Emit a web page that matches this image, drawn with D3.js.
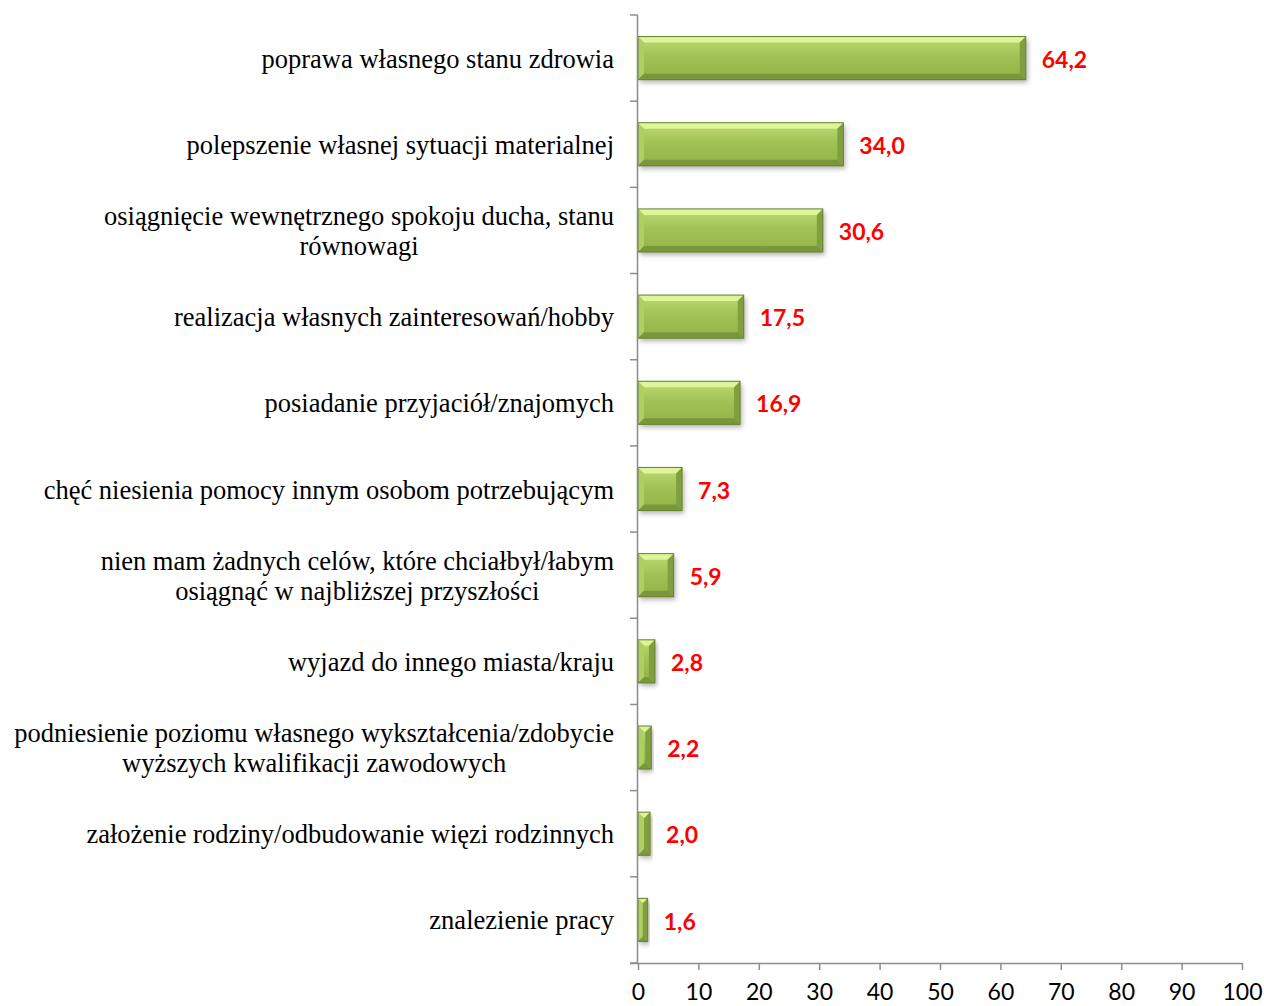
<!DOCTYPE html>
<html>
<head>
<meta charset="utf-8">
<script src="https://cdn.jsdelivr.net/npm/d3@7"></script>
<style>
  html, body { margin: 0; padding: 0; background: #fff; }
  svg { display: block; }
</style>
</head>
<body>
<svg id="chart" width="1264" height="1006"></svg>
<script>
// Goals respondents want to achieve in the near future (% of answers)
const categories = [
  ["poprawa własnego stanu zdrowia"],
  ["polepszenie własnej sytuacji materialnej"],
  ["osiągnięcie wewnętrznego spokoju ducha, stanu", "równowagi"],
  ["realizacja własnych zainteresowań/hobby"],
  ["posiadanie przyjaciół/znajomych"],
  ["chęć niesienia pomocy innym osobom potrzebującym"],
  ["nien mam żadnych celów, które chciałbył/łabym", "osiągnąć w najbliższej przyszłości"],
  ["wyjazd do innego miasta/kraju"],
  ["podniesienie poziomu własnego wykształcenia/zdobycie", "wyższych kwalifikacji zawodowych"],
  ["założenie rodziny/odbudowanie więzi rodzinnych"],
  ["znalezienie pracy"]
];
const values = [64.2, 34.0, 30.6, 17.5, 16.9, 7.3, 5.9, 2.8, 2.2, 2.0, 1.6];
const valueLabels = ["64,2", "34,0", "30,6", "17,5", "16,9", "7,3", "5,9", "2,8", "2,2", "2,0", "1,6"];
const xTicks = [0, 10, 20, 30, 40, 50, 60, 70, 80, 90, 100];

const svg = d3.select("#chart");
const plotLeft = 638, plotRight = 1242, plotTop = 15, plotBottom = 963;

const x = d3.scaleLinear().domain([0, 100]).range([plotLeft, plotRight]);
const y = d3.scaleBand().domain(d3.range(categories.length)).range([plotTop, plotBottom])
  .paddingInner(0.5).paddingOuter(0.25);
const band = d3.scaleBand().domain(d3.range(categories.length)).range([plotTop, plotBottom]);

const defs = svg.append("defs");
const grad = defs.append("linearGradient").attr("id", "barGrad")
  .attr("x1", 0).attr("y1", 0).attr("x2", 0).attr("y2", 1);
grad.append("stop").attr("offset", "0%").attr("stop-color", "#bedb74");
grad.append("stop").attr("offset", "45%").attr("stop-color", "#a2c256");
grad.append("stop").attr("offset", "100%").attr("stop-color", "#93b248");

const shadow = defs.append("filter").attr("id", "shadow")
  .attr("x", "-10%").attr("y", "-20%").attr("width", "130%").attr("height", "160%");
shadow.append("feDropShadow").attr("dx", 2).attr("dy", 3).attr("stdDeviation", 2.5)
  .attr("flood-color", "#000").attr("flood-opacity", 0.3);

// Bars with bevelled edges
const bars = svg.append("g").selectAll("g.bar").data(values).join("g").attr("class", "bar");
bars.each(function(v, i) {
  const g = d3.select(this);
  const x0 = x(0), x1 = x(v), y0 = y(i), h = y.bandwidth();
  const w = x1 - x0;
  const b = Math.min(6, w / 2, h / 2);
  g.append("rect").attr("x", x0).attr("y", y0).attr("width", w).attr("height", h)
    .attr("fill", "url(#barGrad)").attr("filter", "url(#shadow)");
  // top bevel
  g.append("path").attr("d", `M${x0},${y0}L${x1},${y0}L${x1 - b},${y0 + b}L${x0 + b},${y0 + b}Z`)
    .attr("fill", "#def59a");
  // left bevel
  g.append("path").attr("d", `M${x0},${y0}L${x0 + b},${y0 + b}L${x0 + b},${y0 + h - b}L${x0},${y0 + h}Z`)
    .attr("fill", "#b0cf62");
  // right bevel
  g.append("path").attr("d", `M${x1},${y0}L${x1},${y0 + h}L${x1 - b},${y0 + h - b}L${x1 - b},${y0 + b}Z`)
    .attr("fill", "#819f3e");
  // bottom bevel
  g.append("path").attr("d", `M${x0},${y0 + h}L${x1},${y0 + h}L${x1 - b},${y0 + h - b}L${x0 + b},${y0 + h - b}Z`)
    .attr("fill", "#7a973b");
  g.append("rect").attr("x", x0).attr("y", y0).attr("width", w).attr("height", h)
    .attr("fill", "none").attr("stroke", "#66822f").attr("stroke-width", 1);
});

// Value labels
svg.append("g").selectAll("text").data(values).join("text")
  .attr("x", d => x(d) + 16)
  .attr("y", (d, i) => y(i) + y.bandwidth() / 2)
  .attr("dy", "0.42em")
  .attr("font-family", "Lato, 'Open Sans', sans-serif")
  .attr("font-weight", "bold")
  .attr("font-size", 23)
  .attr("fill", "#ff0000")
  .text((d, i) => valueLabels[i]);

// Category axis (vertical line with band separators)
const axisColor = "#8c8c8c";
const yAxis = svg.append("g");
yAxis.append("line").attr("x1", plotLeft - 0.5).attr("x2", plotLeft - 0.5)
  .attr("y1", plotTop).attr("y2", plotBottom).attr("stroke", axisColor).attr("stroke-width", 1.5);
yAxis.selectAll("line.tick").data(d3.range(categories.length + 1)).join("line")
  .attr("class", "tick")
  .attr("x1", plotLeft - 8).attr("x2", plotLeft)
  .attr("y1", i => i < categories.length ? band(i) : plotBottom)
  .attr("y2", i => i < categories.length ? band(i) : plotBottom)
  .attr("stroke", axisColor).attr("stroke-width", 1.5);

// Category labels (multi-line, centred inside a right-aligned block)
const labelRight = 614, lineH = 30;
const labels = svg.append("g").attr("font-family", "'Liberation Serif', 'Times New Roman', serif")
  .attr("font-size", 26.5).attr("fill", "#000");
categories.forEach((lines, i) => {
  const cy = band(i) + band.bandwidth() / 2;
  const t = labels.append("text").attr("text-anchor", "middle");
  lines.forEach((ln, k) => {
    t.append("tspan").attr("y", cy + (k - (lines.length - 1) / 2) * lineH).attr("dy", "0.36em").text(ln);
  });
  let maxW = 0;
  t.selectAll("tspan").each(function() { maxW = Math.max(maxW, this.getComputedTextLength()); });
  t.selectAll("tspan").attr("x", labelRight - maxW / 2);
});

// Value axis
const xAxis = d3.axisBottom(x).tickValues(xTicks).tickSize(7).tickPadding(14).tickFormat(d3.format("d"));
const gx = svg.append("g").attr("transform", `translate(0,${plotBottom})`).call(xAxis);
gx.select(".domain").attr("d", `M${plotLeft - 8},0.5H${plotRight}`).attr("stroke", axisColor).attr("stroke-width", 1.5);
gx.selectAll(".tick line").attr("stroke", axisColor).attr("stroke-width", 1.5);
gx.selectAll(".tick text").attr("font-family", "Lato, 'Open Sans', sans-serif")
  .attr("font-size", 23).attr("fill", "#000");
</script>
</body>
</html>
